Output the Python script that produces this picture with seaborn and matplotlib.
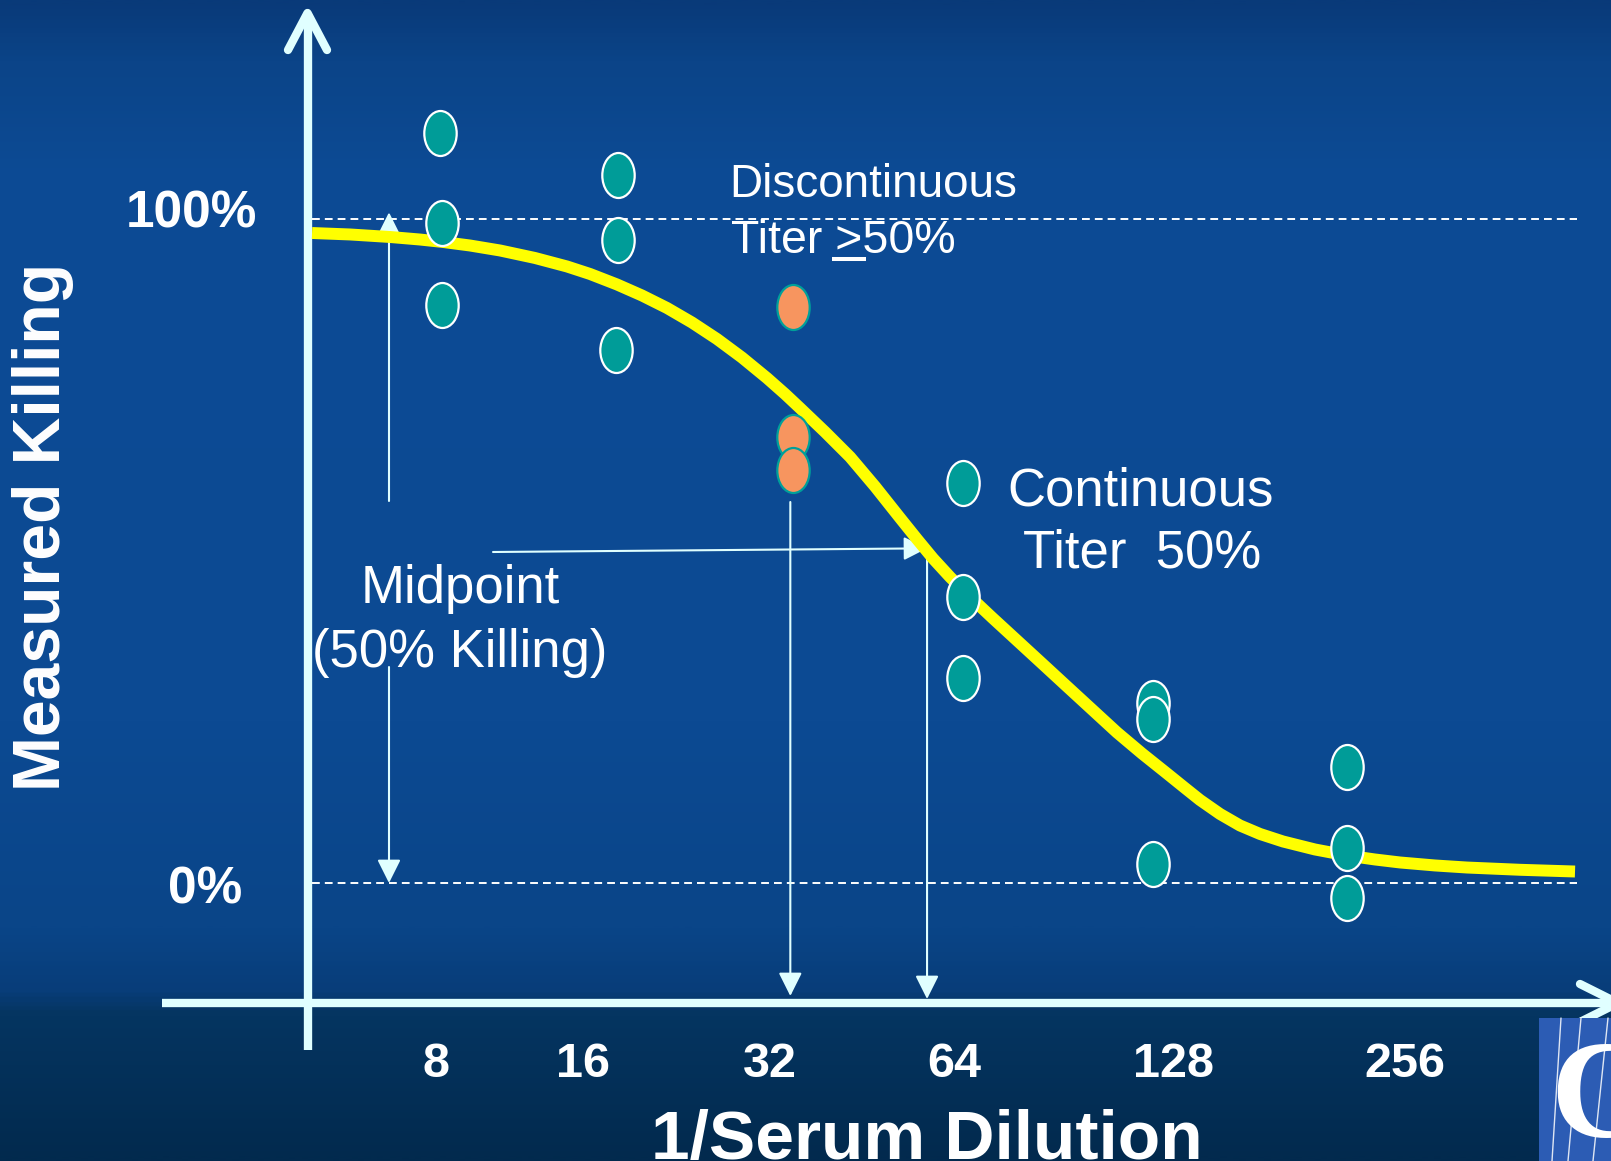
import numpy as np
import pandas as pd
import matplotlib
matplotlib.use("Agg")
import matplotlib.pyplot as plt
import seaborn as sns
from matplotlib.path import Path
from matplotlib.transforms import Affine2D
from matplotlib.font_manager import FontProperties
from matplotlib.colors import LinearSegmentedColormap
from matplotlib.patches import Rectangle

# ------------------------------------------------------------------ data
tick_labels = ["8", "16", "32", "64", "128", "256"]
tick_pos_log2 = [2.97, 3.78, 4.81, 5.83, 7.04, 8.32]

# measured killing (%) of replicate wells, x in log2(1/dilution) as plotted
cont_log2 = [2.99, 3.00, 3.00,
             3.975, 3.975, 3.965,
             5.88, 5.88, 5.88,
             6.93, 6.93, 6.93,
             8.00, 8.00, 8.00]
cont_kill = [112.9, 99.4, 87.0,
             106.7, 96.8, 80.3,
             60.2, 43.0, 30.9,
             27.1, 24.7, 2.8,
             17.5, 5.3, -2.3]
disc_log2 = [4.94, 4.94, 4.94]
disc_kill = [86.7, 67.2, 62.2]

# fitted killing curve
curve_log2 = [2.284, 2.494, 2.715, 2.880, 3.007, 3.156, 3.322, 3.515, 3.692,
              3.819, 3.968, 4.106, 4.244, 4.382, 4.520, 4.658, 4.796, 4.896,
              4.978, 5.117, 5.255, 5.393, 5.531, 5.624, 5.713, 5.807, 5.901,
              6.039, 6.177, 6.315, 6.453, 6.591, 6.729, 6.867, 7.005, 7.104,
              7.187, 7.298, 7.408, 7.519, 7.646, 7.822, 7.999, 8.154, 8.292,
              8.485, 8.662, 8.954, 9.258]
curve_kill = [97.89, 97.67, 97.29, 96.91, 96.54, 96.01, 95.26, 94.13, 92.85,
              91.72, 90.14, 88.48, 86.60, 84.41, 81.93, 79.14, 76.05, 73.64,
              71.54, 67.92, 64.16, 59.71, 54.97, 51.81, 48.87, 46.08, 43.52,
              39.98, 36.52, 33.06, 29.59, 26.13, 22.67, 19.50, 16.49, 14.31,
              12.50, 10.39, 8.66, 7.38, 6.25, 5.05, 4.14, 3.54, 3.09,
              2.64, 2.33, 1.99, 1.73]

disc_titer_log2 = 4.925   # discontinuous titer (32)
cont_titer_log2 = 5.68    # continuous titer at 50 % killing
midpoint_kill = 50.4

# ------------------------------------------------------------------ style
sns.set_style("white")
FONT = "Liberation Sans"
plt.rcParams["font.family"] = [FONT, "DejaVu Sans"]

W, H = 1611, 1161
fig = plt.figure(figsize=(W / 100, H / 100), dpi=100)
fig.patch.set_facecolor("#0b4791")
ax = fig.add_axes([0, 0, 1, 1])

# pixel -> data helpers (layout only)
X0_PX, X_STEP = 441.7, 181.1
Y0_PX, Y_STEP = 883.0, 6.64
def Xd(px):
    return 3 + (px - X0_PX) / X_STEP
def Yd(py):
    return (Y0_PX - py) / Y_STEP

XL = (Xd(0), Xd(W))
YL = (Yd(H), Yd(0))

# background gradient
stops = [(0.00, "#093a79"), (0.05, "#0b4488"), (0.15, "#0d4b95"),
         (0.62, "#0c4a93"), (0.80, "#0a4588"), (0.855, "#083d79"),
         (0.875, "#053561"), (1.00, "#022a4e")]
cmap = LinearSegmentedColormap.from_list("bg", stops)
grad = np.linspace(0, 1, 600).reshape(-1, 1)
ax.imshow(grad, cmap=cmap, extent=[XL[0], XL[1], YL[0], YL[1]],
          aspect="auto", origin="upper", zorder=0, interpolation="bilinear")

AXC = "#e0ffff"

# main axes arrows
ax.plot([Xd(307.5)] * 2, [Yd(1050), Yd(14)], color=AXC, lw=6,
        solid_capstyle="butt", zorder=2)
ax.plot([Xd(288), Xd(307.5), Xd(327)], [Yd(50), Yd(13), Yd(50)], color=AXC,
        lw=6, solid_capstyle="round", solid_joinstyle="round", zorder=2)
ax.plot([Xd(162), Xd(1640)], [Yd(1003)] * 2, color=AXC, lw=6,
        solid_capstyle="butt", zorder=2)
ax.plot([Xd(1580), Xd(1618), Xd(1580)], [Yd(984), Yd(1003), Yd(1022)],
        color=AXC, lw=6, solid_capstyle="round", solid_joinstyle="round",
        zorder=2)

# reference dashed lines at 100 % and 0 %
for lvl in (100, 0):
    ax.plot([Xd(312), Xd(1577)], [lvl, lvl], color="white", lw=1.4,
            linestyle=(0, (4, 2.6)), zorder=2)

# thin arrows
arrow_kw = dict(arrowstyle="-|>,head_length=1.0,head_width=0.5",
                mutation_scale=14.4, color=AXC, lw=1.5,
                shrinkA=0, shrinkB=0)
xm = Xd(389)
ax.annotate("", xy=(xm, 101.0), xytext=(xm, Yd(501)), arrowprops=arrow_kw,
            zorder=2)
ax.annotate("", xy=(xm, 0.0), xytext=(xm, Yd(667)), arrowprops=arrow_kw,
            zorder=2)
ax.annotate("", xy=(cont_titer_log2, midpoint_kill),
            xytext=(Xd(493), Yd(552)), arrowprops=arrow_kw, zorder=2)
ax.annotate("", xy=(disc_titer_log2, Yd(996)),
            xytext=(disc_titer_log2, Yd(502)), arrowprops=arrow_kw, zorder=2)
ax.annotate("", xy=(cont_titer_log2, Yd(999)),
            xytext=(cont_titer_log2, midpoint_kill), arrowprops=arrow_kw,
            zorder=2)

# curve
sns.lineplot(x=curve_log2, y=curve_kill, ax=ax, color="#ffff00", lw=8.6,
             sort=False, estimator=None, solid_capstyle="butt",
             solid_joinstyle="round", zorder=3)

# points
ellipse = Path.unit_circle().transformed(Affine2D().scale(0.72, 1.0))
cont_df = pd.DataFrame({"x": cont_log2, "y": cont_kill})
disc_df = pd.DataFrame({"x": disc_log2, "y": disc_kill})
sns.scatterplot(data=cont_df, x="x", y="y", ax=ax, marker=ellipse, s=1050,
                color="#009c98", edgecolor="white", linewidth=1.6,
                zorder=4, legend=False)
sns.scatterplot(data=disc_df, x="x", y="y", ax=ax, marker=ellipse, s=1050,
                color="#f7955f", edgecolor="#00a09a", linewidth=1.6,
                zorder=4, legend=False)

# texts
TXT = dict(color="white", zorder=6)
ax.text(Xd(191), Yd(227), "100%", ha="center", va="baseline", fontsize=37,
        fontweight="bold", **TXT)
ax.text(Xd(205), Yd(904), "0%", ha="center", va="baseline", fontsize=37,
        fontweight="bold", **TXT)
ax.text(Xd(43), Yd(527), "Measured Killing", ha="center", va="center",
        rotation=90, fontsize=47.5, fontweight="bold", **TXT)
for lab, pos in zip(tick_labels, tick_pos_log2):
    ax.text(pos, Yd(1077), lab, ha="center", va="baseline", fontsize=35,
            fontweight="bold", **TXT)
ax.text(Xd(927), Yd(1159), "1/Serum Dilution", ha="center", va="baseline",
        fontsize=50, fontweight="bold", **TXT)

ax.text(Xd(729), Yd(197), "Discontinuous", ha="left", va="baseline",
        fontsize=33, **TXT)
tx, ty = Xd(731), Yd(253)
ax.text(tx, ty, "Titer >50%", ha="left", va="baseline", fontsize=33.5, **TXT)
ax.text(Xd(1141), Yd(505), "Continuous", ha="center", va="baseline",
        fontsize=38, **TXT)
ax.text(Xd(1142), Yd(568), "Titer  50%", ha="center", va="baseline",
        fontsize=38, **TXT)
ax.text(Xd(460), Yd(603), "Midpoint", ha="center", va="baseline",
        fontsize=38, **TXT)
ax.text(Xd(460), Yd(667), "(50% Killing)", ha="center", va="baseline",
        fontsize=38, **TXT)

# logo corner
ax.add_patch(Rectangle((Xd(1539), Yd(1175)), Xd(1640) - Xd(1539),
                       Yd(1018) - Yd(1175), facecolor="#2c5cb4",
                       edgecolor="none", zorder=7))
for xt, xb in [(1561, 1552), (1581, 1568), (1608, 1593), (1625, 1612)]:
    ax.plot([Xd(xt), Xd(xb)], [Yd(1018), Yd(1161)], color="white", lw=1.0,
            alpha=0.85, zorder=8)
ax.text(Xd(1550), Yd(1137), "C", ha="left", va="baseline", fontsize=100,
        family="Liberation Serif", fontweight="bold", color="white", zorder=9)

ax.set_xlim(*XL)
ax.set_ylim(*YL)
ax.axis("off")

# underline under ">" (PowerPoint-style >=)
fig.canvas.draw()
renderer = fig.canvas.get_renderer()
fp = FontProperties(family=FONT, size=33.5)
w_pref, _, _ = renderer.get_text_width_height_descent("Titer >", fp, ismath=False)
w_gt, _, _ = renderer.get_text_width_height_descent(">", fp, ismath=False)
px0, py0 = ax.transData.transform((tx, ty))
(u0x, u0y), (u1x, u1y) = ax.transData.inverted().transform(
    [(px0 + w_pref - w_gt - 3, py0 - 6), (px0 + w_pref + 4, py0 - 6)])
ax.plot([u0x, u1x], [u0y, u1y], color="white", lw=2.9,
        solid_capstyle="butt", zorder=6)
ax.set_xlim(*XL)
ax.set_ylim(*YL)

fig.savefig("out.png", dpi=100, facecolor=fig.get_facecolor())
